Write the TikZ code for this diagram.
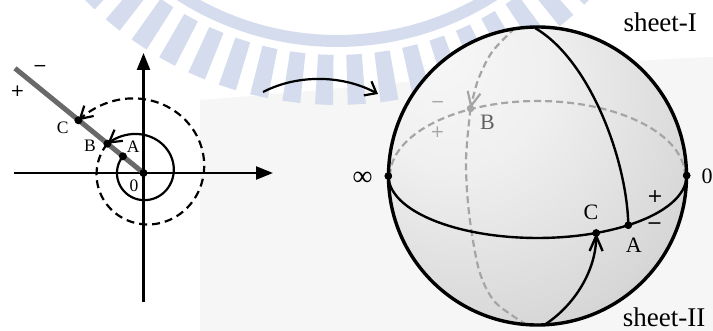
\documentclass[tikz,border=0pt]{standalone}
\usepackage{fontspec}
\setmainfont{Liberation Serif}
\newfontfamily\pmfont{DejaVu Sans}
\usetikzlibrary{arrows.meta}
\definecolor{wm}{RGB}{212,220,238}
\definecolor{raygray}{RGB}{105,105,105}
\definecolor{dgray}{RGB}{165,165,165}
\definecolor{panel}{RGB}{246,246,246}
\pgfdeclareradialshading{sph}{\pgfpoint{-18bp}{22bp}}{color(0bp)=(black!3); color(16bp)=(black!6); color(38bp)=(black!16); color(56bp)=(black!34); color(76bp)=(black!55)}
\begin{document}
\begin{tikzpicture}[x=1pt,y=-1pt,
  dot/.style={circle,fill=black,inner sep=0pt,minimum size=8pt},
  sdot/.style={circle,fill=black,inner sep=0pt,minimum size=7.5pt},
  gdot/.style={circle,fill=dgray,inner sep=0pt,minimum size=7.5pt},
  lbl/.style={font=\fontsize{17.5}{20}\selectfont,inner sep=0pt},
  lpm/.style={font=\pmfont\fontsize{17}{20}\selectfont,inner sep=0pt},
  slbl/.style={font=\fontsize{22}{26}\selectfont,inner sep=0pt},
  spm/.style={font=\pmfont\fontsize{19}{22}\selectfont,inner sep=0pt},
  sht/.style={font=\fontsize{27}{30}\selectfont,inner sep=0pt},
  axis/.style={line width=2.4pt,-{Triangle[length=17pt,width=13pt]}},
  barb/.style={-{Straight Barb[length=12pt,width=14pt]}},
  spiral/.style={line width=2.2pt,line join=round},
  sline/.style={line width=2.4pt},
  backline/.style={dgray,line width=2.2pt,dash pattern=on 7pt off 4pt}]
\useasboundingbox (0,0) rectangle (713,331);
\fill[white] (0,0) rectangle (713,331);
% faint backdrop panel
\fill[panel] (200,100) -- (200,331) -- (713,331) -- (713,57) .. controls (600,60) and (400,85) .. (200,100);
% watermark
\begin{scope}[shift={(337,-250)}]
  \fill[wm] plot[domain=25:155,samples=80] ({297*cos(\x)},{297*sin(\x)}) -- plot[domain=155:25,samples=80] ({285*cos(\x)},{285*sin(\x)}) -- cycle;
  \foreach \a in {-9,...,9}
    \fill[wm] ({92.1+5.3*\a-1.45}:305) -- ({92.1+5.3*\a+1.45}:305) -- ({92.1+5.3*\a+1.45}:355) -- ({92.1+5.3*\a-1.45}:355) -- cycle;
\end{scope}
% ---------- left diagram ----------
\coordinate (xs) at (14,173);
\coordinate (xe) at (273,173);
\coordinate (ys) at (143.5,302);
\coordinate (ye) at (143.5,53);
\coordinate (rayend) at (15,68.3);
\coordinate (Oc) at (143.5,173);
\draw[axis] (xs) -- (xe);
\draw[axis] (ys) -- (ye);
\draw[raygray,line width=5pt] (Oc) -- (rayend);
\node[dot] (O) at (Oc) {};
\node[dot] (pA) at (122.9,156.3) {};
\node[dot] (pB) at (107.4,143.7) {};
\node[dot] (pC) at (78.4,120.3) {};
\draw[spiral,barb] plot[domain=141:501,samples=150,smooth] ({143.5+(26.5+10*(((\x-141)/360)^3+((\x-141)/360)^4))*cos(\x)},{173-(26.5+10*(((\x-141)/360)^3+((\x-141)/360)^4))*sin(\x)});
\draw[spiral,dash pattern=on 8pt off 5pt,barb] plot[domain=141:501,samples=150,smooth] ({143.5+(46.5+37.2*((\x-141)/360)^2)*cos(\x)},{173-(46.5+37.2*((\x-141)/360)^2)*sin(\x)});
\node[lbl,anchor=base west] (lC) at (56.7,133.3) {C};
\node[lbl,anchor=base west] (lB) at (84,151.7) {B};
\node[lbl,anchor=base west] (lA) at (126.7,152.7) {A};
\node[lbl,anchor=base west] (l0) at (129.3,191.7) {0};
\node[lpm] (lplus) at (17.5,90.7) {+};
\node[lpm] (lminus) at (40,68.3) {−};
% ---------- mapping arrow ----------
\coordinate (ca1) at (263,92);
\coordinate (ca2) at (378,94);
\draw[line width=2.2pt,-{Straight Barb[length=10pt,width=16pt]}] (ca1) .. controls (300,73) and (345,76) .. (ca2);
% ---------- sphere ----------
\shade[shading=sph] (537.5,176) circle (149);
\draw[backline] plot[domain=180:360,samples=80] ({537.5+147.5*cos(\x)},{176+75*sin(\x)});
\node[gdot] (qB) at (470.5,108.5) {};
\draw[backline,-{Straight Barb[length=14pt,width=13pt]}] plot[smooth] coordinates {(515,28) (492,52) (478,80) (qB.center)};
\draw[backline] plot[smooth] coordinates {(qB.center) (466,160) (469,213) (479,270) (495,302) (527,325)};
\node[sdot] (qinf) at (388.3,176) {};
\node[sdot] (qzero) at (686.7,175.5) {};
\node[sdot] (qA) at (628.3,225.2) {};
\node[sdot] (qC) at (596.2,233) {};
\coordinate (npole) at (535,28);
\coordinate (spole) at (545,324.5);
\draw[sline] plot[domain=0:180,samples=80] ({537.5+149*cos(\x)},{176+62*sin(\x)});
\draw[sline] (qA.center) .. controls (627,160) and (590,60) .. (npole);
\draw[sline,-{Straight Barb[length=15pt,width=13pt]}] (spole) .. controls (575,305) and (596,270) .. (qC.center);
\draw[line width=3.4pt] (537.5,176) circle (149);
\node[sdot] at (qinf) {};
\node[sdot] at (qzero) {};
\node[sdot] at (qA) {};
\node[sdot] at (qC) {};
\node[slbl,anchor=base west,text=black!62] (sB) at (480,130) {B};
\node[slbl,anchor=base west] (sC) at (583.3,220) {C};
\node[slbl,anchor=base west] (sA) at (625.7,252.7) {A};
\node[spm] (splus) at (655,197) {+};
\node[spm] (sminus) at (654.5,226) {−};
\node[lpm,text=black!35] (gminus) at (437.7,104) {−};
\node[lpm,text=black!35] (gplus) at (437.5,132) {+};
\node[font=\fontsize{28}{30}\selectfont,inner sep=0pt] (inf) at (362.5,179) {∞};
\node[slbl,anchor=west] (zero) at (701.5,176) {0};
\node[sht,anchor=base west] (s1) at (623.3,31.7) {sheet-I};
\node[sht,anchor=base west] (s2) at (622.7,326.5) {sheet-II};
\end{tikzpicture}
\end{document}
